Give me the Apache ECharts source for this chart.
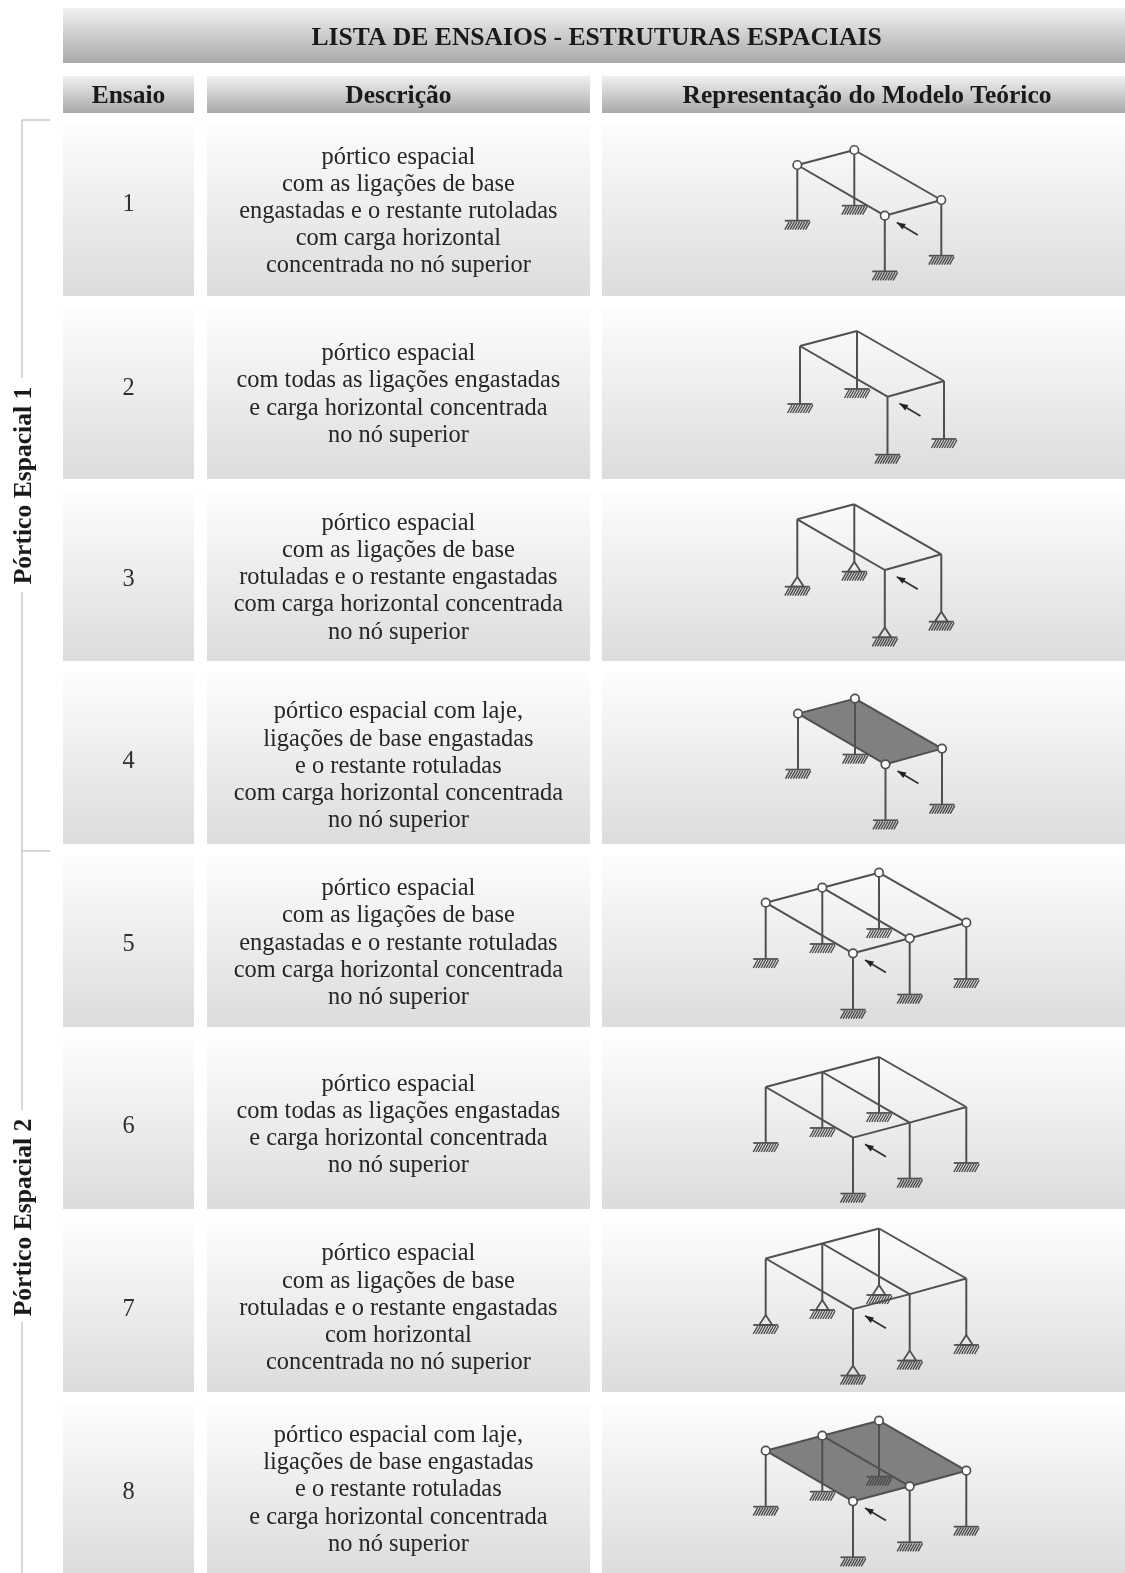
<!DOCTYPE html>
<html>
<head>
<meta charset="utf-8">
<title>Lista de ensaios</title>
<script src="https://cdn.jsdelivr.net/npm/echarts@6/dist/echarts.min.js"></script>
<style>
html, body { margin: 0; padding: 0; background: #fff; }
#main { width: 1125px; height: 1573px; filter: blur(0.5px); }
</style>
</head>
<body>
<div id="main"></div>
<script>
var title = 'LISTA DE ENSAIOS - ESTRUTURAS ESPACIAIS'
var columnNames = ['Ensaio', 'Descrição', 'Representação do Modelo Teórico']
var groupNames = ['Pórtico Espacial 1', 'Pórtico Espacial 2']
var ensaios = ['1', '2', '3', '4', '5', '6', '7', '8']
var descricoes = [
    ['pórtico espacial', 'com as ligações de base', 'engastadas e o restante rutoladas', 'com carga horizontal', 'concentrada no nó superior'],
    ['pórtico espacial', 'com todas as ligações engastadas', 'e carga horizontal concentrada', 'no nó superior'],
    ['pórtico espacial', 'com as ligações de base', 'rotuladas e o restante engastadas', 'com carga horizontal concentrada', 'no nó superior'],
    ['pórtico espacial com laje,', 'ligações de base engastadas', 'e o restante rotuladas', 'com carga horizontal concentrada', 'no nó superior'],
    ['pórtico espacial', 'com as ligações de base', 'engastadas e o restante rotuladas', 'com carga horizontal concentrada', 'no nó superior'],
    ['pórtico espacial', 'com todas as ligações engastadas', 'e carga horizontal concentrada', 'no nó superior'],
    ['pórtico espacial', 'com as ligações de base', 'rotuladas e o restante engastadas', 'com horizontal', 'concentrada no nó superior'],
    ['pórtico espacial com laje,', 'ligações de base engastadas', 'e o restante rotuladas', 'e carga horizontal concentrada', 'no nó superior']
]

// what each test has: hinged joints, pinned bases, slab, number of bays
var rotulado = [true, false, false, true, true, false, false, true]
var baseRotulada = [false, false, true, false, false, false, true, false]
var laje = [false, false, false, true, false, false, false, true]
var vaos = [1, 1, 1, 1, 2, 2, 2, 2]

// frame node, first node of each test, and column height
var frameX = [797.3, 800, 797.3, 798, 765.7, 765.7, 765.7, 765.7]
var frameY = [165, 346, 519.3, 713.6, 902.7, 1087, 1258.5, 1450.7]
var frameH = [55.7, 58, 57.4, 56, 56.3, 56, 56.5, 56]

// nodes relative to the first one
var nodes1 = [[0, 0], [57, -15], [144, 35], [87.5, 50.7]]
var beams1 = [[0, 1], [1, 2], [2, 3], [3, 0]]
var slabs1 = [[0, 1, 2, 3]]
var front1 = 3
var nodes2 = [[0, 0], [56.6, -15], [113.3, -30], [200.6, 20], [144, 35.6], [87.3, 50.6]]
var beams2 = [[0, 1], [1, 2], [2, 3], [3, 4], [4, 5], [5, 0], [1, 4]]
var slabs2 = [[0, 1, 4, 5], [1, 2, 3, 4]]
var front2 = 5

// band edges on the y axis
var rowTop = [122, 308, 491, 673, 856, 1039, 1222, 1404]
var rowBottom = [296, 479, 661, 844, 1027, 1209, 1392, 1573]
var firstLineY = [157.1, 353.8, 523.4, 712, 888.7, 1084.4, 1254, 1435.6]
var numberY = [204.7, 388.4, 579.1, 761.7, 944.4, 1127, 1309.7, 1492.3]

var lineHeight = 27.2
var serif = '"Liberation Serif", "Times New Roman", serif'
var ink = '#505050'

var cells = [[63, 8, 1125, 63, 'head']]
var headCols = [[63, 194], [207, 590], [602, 1125]]
var headCenters = [128.5, 398.4, 867]
var texts = [{x: 596.6, y: 38.5, text: title, size: 25.6, weight: 'bold', color: '#1a1a1a'}]

headCols.forEach(function (c, i) {
    cells.push([c[0], 76, c[1], 113, 'head'])
    texts.push({x: headCenters[i], y: 96, text: columnNames[i], size: 25.5, weight: 'bold', color: '#1a1a1a'})
})

var segments = []
var slabs = []
var pins = []
var hatches = []
var arrows = []
var hinges = []

ensaios.forEach(function (e, r) {
    headCols.forEach(function (c) {
        cells.push([c[0], rowTop[r], c[1], rowBottom[r], 'body'])
    })
    texts.push({x: headCenters[0], y: numberY[r], text: e, size: 24.4, weight: 'normal', color: '#303030'})
    descricoes[r].forEach(function (line, k) {
        texts.push({x: headCenters[1], y: firstLineY[r] + k * lineHeight, text: line, size: 24.4, weight: 'normal', color: '#262626'})
    })

    var nodes = vaos[r] === 1 ? nodes1 : nodes2
    var beams = vaos[r] === 1 ? beams1 : beams2
    var front = vaos[r] === 1 ? front1 : front2
    var ox = frameX[r]
    var oy = frameY[r]
    var abs = nodes.map(function (n) { return [ox + n[0], oy + n[1]] })

    if (laje[r]) {
        (vaos[r] === 1 ? slabs1 : slabs2).forEach(function (s) {
            slabs.push(s.map(function (i) { return abs[i] }))
        })
    }
    abs.forEach(function (p) {
        var y = p[1] + frameH[r]
        segments.push([p[0], p[1], p[0], y])
        if (baseRotulada[r]) {
            pins.push([p[0], y])
            hatches.push([p[0], y + 10])
        } else {
            hatches.push([p[0], y])
        }
    })
    beams.forEach(function (b) {
        segments.push([abs[b[0]][0], abs[b[0]][1], abs[b[1]][0], abs[b[1]][1]])
    })
    if (rotulado[r]) {
        abs.forEach(function (p) { hinges.push(p) })
    }
    arrows.push([abs[front][0] + 33, abs[front][1] + 19.2, abs[front][0] + 12, abs[front][1] + 6.7])
})

var bracket = [
    [22, 120, 50, 120], [22, 851, 50, 851],
    [22, 120, 22, 378], [22, 592, 22, 1110], [22, 1322, 22, 1573]
]
texts.push({x: 24, y: 485.5, text: groupNames[0], size: 25.6, weight: 'bold', color: '#1a1a1a', rotation: Math.PI / 2})
texts.push({x: 24, y: 1217.5, text: groupNames[1], size: 25.6, weight: 'bold', color: '#1a1a1a', rotation: Math.PI / 2})

function lineItem(api, d, stroke, width) {
    var a = api.coord([d[0], d[1]])
    var b = api.coord([d[2], d[3]])
    return {
        type: 'line',
        shape: {x1: a[0], y1: a[1], x2: b[0], y2: b[1]},
        style: {stroke: stroke, lineWidth: width}
    }
}

function customSeries(data, renderItem, z) {
    return {
        type: 'custom',
        coordinateSystem: 'cartesian2d',
        data: data.map(function (d, i) { return [i] }),
        encode: {x: -1, y: -1},
        clip: false,
        silent: true,
        animation: false,
        z: z,
        renderItem: renderItem
    }
}

var option = {
    animation: false,
    backgroundColor: '#ffffff',
    grid: {left: 0, right: 0, top: 0, bottom: 0},
    xAxis: {type: 'value', min: 0, max: 1125, show: false},
    yAxis: {type: 'value', min: 0, max: 1573, inverse: true, show: false},
    series: [
        customSeries(cells, function (params, api) {
            var d = cells[params.dataIndex]
            var a = api.coord([d[0], d[1]])
            var b = api.coord([d[2], d[3]])
            var stops = d[4] === 'head'
                ? [{offset: 0, color: '#f1f1f1'}, {offset: 1, color: '#a9a9a9'}]
                : [{offset: 0, color: '#fdfdfd'}, {offset: 1, color: '#dcdcdc'}]
            return {
                type: 'rect',
                shape: {x: a[0], y: a[1], width: b[0] - a[0], height: b[1] - a[1]},
                style: {fill: new echarts.graphic.LinearGradient(0, 0, 0, 1, stops)}
            }
        }, 1),
        customSeries(bracket, function (params, api) {
            return lineItem(api, bracket[params.dataIndex], '#c9c9c9', 1.5)
        }, 2),
        customSeries(slabs, function (params, api) {
            return {
                type: 'polygon',
                shape: {points: slabs[params.dataIndex].map(function (p) { return api.coord(p) })},
                style: {fill: '#808080'}
            }
        }, 3),
        customSeries(segments, function (params, api) {
            return lineItem(api, segments[params.dataIndex], ink, 2)
        }, 4),
        customSeries(pins, function (params, api) {
            var p = pins[params.dataIndex]
            return {
                type: 'polygon',
                shape: {points: [api.coord(p), api.coord([p[0] - 6.5, p[1] + 10]), api.coord([p[0] + 6.5, p[1] + 10])]},
                style: {fill: 'none', stroke: ink, lineWidth: 1.8}
            }
        }, 5),
        customSeries(hatches, function (params, api) {
            var p = hatches[params.dataIndex]
            var children = [lineItem(api, [p[0] - 12.5, p[1], p[0] + 12.5, p[1]], ink, 1.8)]
            for (var i = 0; i < 9; i++) {
                var hx = p[0] - 8 + i * 2.6
                children.push(lineItem(api, [hx, p[1] + 1, hx - 4.5, p[1] + 9], '#4a4a4a', 1.4))
            }
            return {type: 'group', children: children}
        }, 5),
        customSeries(arrows, function (params, api) {
            var d = arrows[params.dataIndex]
            var tip = api.coord([d[2], d[3]])
            var ang = Math.atan2(d[1] - d[3], d[0] - d[2])
            var len = 8.5
            var half = 3.2
            var bx = tip[0] + len * Math.cos(ang)
            var by = tip[1] + len * Math.sin(ang)
            return {
                type: 'group',
                children: [
                    lineItem(api, d, '#333', 1.8),
                    {
                        type: 'polygon',
                        shape: {points: [
                            tip,
                            [bx - half * Math.sin(ang), by + half * Math.cos(ang)],
                            [bx + half * Math.sin(ang), by - half * Math.cos(ang)]
                        ]},
                        style: {fill: '#222'}
                    }
                ]
            }
        }, 5),
        {
            type: 'scatter',
            data: hinges,
            symbol: 'circle',
            symbolSize: 8.5,
            silent: true,
            animation: false,
            z: 6,
            itemStyle: {color: '#ffffff', borderColor: ink, borderWidth: 1.7, opacity: 1}
        },
        customSeries(texts, function (params, api) {
            var t = texts[params.dataIndex]
            var p = api.coord([t.x, t.y])
            return {
                type: 'text',
                x: p[0],
                y: p[1],
                rotation: t.rotation || 0,
                style: {
                    text: t.text,
                    fill: t.color,
                    font: t.weight + ' ' + t.size + 'px ' + serif,
                    align: 'center',
                    verticalAlign: 'middle'
                }
            }
        }, 7)
    ]
}

var chart = echarts.init(document.getElementById('main'), null, {renderer: 'canvas'})
chart.setOption(option)
</script>
</body>
</html>
